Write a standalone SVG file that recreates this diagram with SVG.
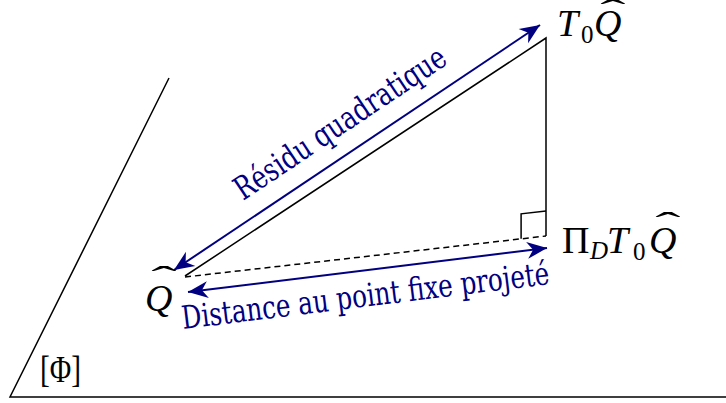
<svg xmlns="http://www.w3.org/2000/svg" width="726" height="403" viewBox="0 0 726 403">
<style>
.ln{fill:none;stroke:#000;stroke-width:1.5}
.bl{fill:none;stroke:#000080;stroke-width:2}
.lab{font-family:"DejaVu Serif","Liberation Serif",serif;font-stretch:condensed;font-size:32px;fill:#000080}
.m{font-family:"Liberation Serif","Times New Roman",serif;font-size:38px;fill:#000}
.hat{font-family:"Liberation Serif","Times New Roman",serif;font-size:33px;fill:#000}
.it{font-style:italic}
.sub{font-size:25px}
</style>
<defs>
<marker id="ah" viewBox="-21 -10 23 20" refX="0" refY="0" markerWidth="23" markerHeight="20" markerUnits="userSpaceOnUse" orient="auto-start-reverse">
<path d="M0,0 L-20,-8.5 L-14,0 L-20,8.5 Z" fill="#000080"/>
</marker>
</defs>
<g id="plane">
<path class="ln" d="M169,78 L10,397 L726,397"/>
<text class="m" x="40" y="382" font-size="36" textLength="41" lengthAdjust="spacingAndGlyphs">[Φ]</text>
</g>
<g id="connectors">
<path class="ln" d="M185,276 L546,38 L546,236"/>
<path class="ln" stroke-dasharray="6,4" d="M185,277 L546,236"/>
<path class="ln" d="M521.1,238.8 L521.1,213.8 L546,211"/>
<path class="bl" d="M174,270 L540,25" marker-start="url(#ah)" marker-end="url(#ah)"/>
<path class="bl" d="M188,292 L547,248" marker-start="url(#ah)" marker-end="url(#ah)"/>
<text class="lab" transform="translate(243,201) rotate(-33.8)" textLength="248" lengthAdjust="spacingAndGlyphs">Résidu quadratique</text>
<text class="lab" transform="translate(183,329) rotate(-7)" textLength="370" lengthAdjust="spacingAndGlyphs">Distance au point fixe projeté</text>
</g>
<g id="node-q">
<text class="m it" x="145" y="311">Q</text>
<text class="hat" transform="translate(164,290) scale(2.3,1)" text-anchor="middle">ˆ</text>
</g>
<g id="node-t0q">
<text class="m" y="36"><tspan class="it" x="557">T</tspan><tspan class="sub" x="581" y="43">0</tspan><tspan class="it" x="594" y="36">Q</tspan></text>
<text class="hat" transform="translate(613,23) scale(2.3,1)" text-anchor="middle">ˆ</text>
</g>
<g id="node-pi">
<text class="m" y="253"><tspan x="562">Π</tspan><tspan class="it sub" x="590" y="259">D</tspan><tspan class="it" x="607" y="253">T</tspan><tspan class="sub" x="633" y="260">0</tspan><tspan class="it" x="649" y="253">Q</tspan></text>
<text class="hat" transform="translate(668,236) scale(2.3,1)" text-anchor="middle">ˆ</text>
</g>
</svg>
